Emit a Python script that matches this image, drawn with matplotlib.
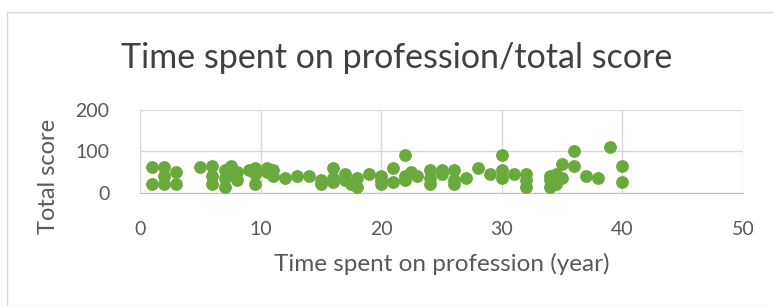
import matplotlib
matplotlib.use("Agg")
import matplotlib.pyplot as plt
from matplotlib.patches import Rectangle

# years spent on profession and the matching total score
years = [1, 1, 2, 2, 2, 3, 3,
         5, 6, 6, 6, 7, 7, 7, 7.5, 7.5, 8, 8, 9, 9.5, 9.5, 9.5,
         10.5, 10.5, 11, 11, 12, 13, 14, 15, 15, 16, 16, 16, 17, 17,
         17.5, 18, 18, 19, 20, 20, 20, 21, 21, 22, 22, 22, 22.5, 23,
         24, 24, 24, 25, 25, 26, 26, 26, 27, 28, 29, 30, 30, 30, 31,
         32, 32, 32, 34, 34, 34, 34.5, 34.5, 35, 35, 36, 36, 37, 38,
         39, 40, 40]
scores = [62, 20, 62, 40, 20, 50, 20,
          62, 65, 40, 20, 55, 35, 15, 65, 45, 50, 30, 55, 60, 45, 20,
          60, 50, 55, 40, 35, 40, 40, 30, 20, 60, 35, 25, 45, 30,
          20, 35, 15, 45, 40, 30, 20, 60, 25, 90, 40, 30, 50, 40,
          55, 35, 20, 55, 45, 55, 30, 20, 35, 60, 45, 90, 55, 35, 45,
          45, 30, 15, 40, 30, 15, 45, 20, 70, 35, 100, 65, 40, 35,
          110, 65, 25]

fig = plt.figure(figsize=(7.74, 3.06), dpi=100)
fig.patches.append(Rectangle((0.009, 0.0), 0.995, 0.96, transform=fig.transFigure,
                             fill=False, edgecolor="#d9d9d9", linewidth=1.0))

ax = fig.add_axes([0.181, 0.370, 0.779, 0.271])
ax.scatter(years, scores, s=85, color="#6aaa3c", zorder=3, linewidths=0)

ax.set_xlim(0, 50)
ax.set_ylim(0, 200)
ax.set_xticks(range(0, 51, 10))
ax.set_yticks([0, 100, 200])
ax.grid(True, color="#d9d9d9", linewidth=1.0)
for side in ["top", "right", "left"]:
    ax.spines[side].set_visible(False)
ax.spines["bottom"].set_color("#bfbfbf")
ax.tick_params(length=0, labelsize=14, colors="#595959")
ax.tick_params(axis="x", pad=20)
ax.tick_params(axis="y", pad=22)

font = "Lato"
for lbl in ax.get_xticklabels() + ax.get_yticklabels():
    lbl.set_fontfamily(font)

fig.text(0.512, 0.812, "Time spent on profession/total score", ha="center", va="center",
         fontsize=24.5, color="#404040", family=font)
ax.set_xlabel("Time spent on profession (year)", fontsize=17.5, color="#595959",
              family=font, labelpad=11)
ax.set_ylabel("Total score", fontsize=17, color="#595959", family=font)
ax.yaxis.set_label_coords(-0.134, 0.2)

fig.savefig("out.png", dpi=100)
